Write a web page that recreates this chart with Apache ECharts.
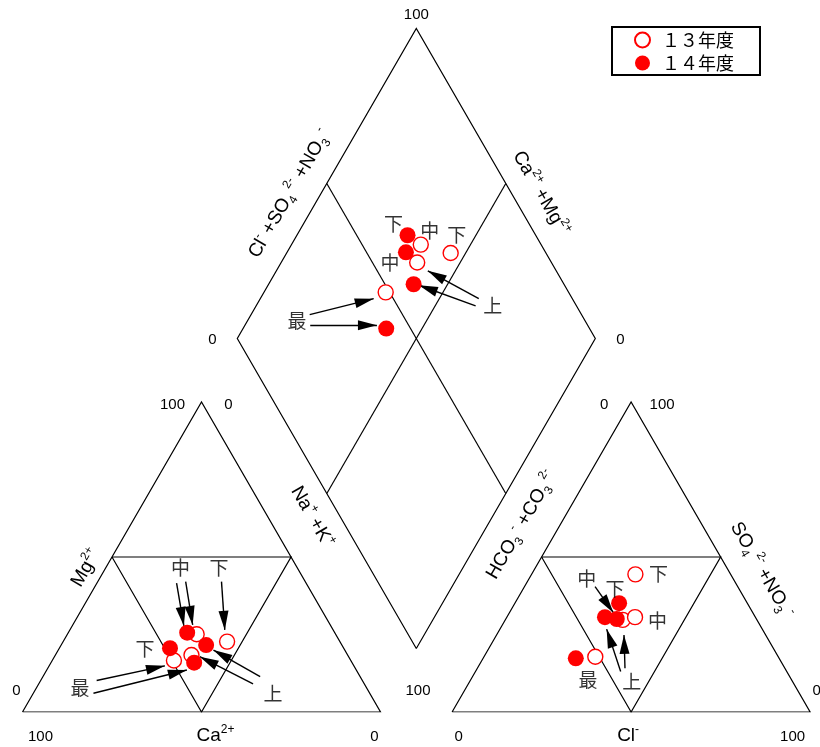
<!DOCTYPE html>
<html><head><meta charset="utf-8">
<script src="https://cdn.jsdelivr.net/npm/echarts@6/dist/echarts.min.js"></script>
<style>html,body{margin:0;padding:0;background:#fff;}#chart{width:820px;height:747px;}</style>
</head><body><div id="chart"></div>
<script>
// ---------------- data (meq %) ----------------
const stations = ['最', '上', '中', '下'];
const seriesNames = ['１３年度', '１４年度'];
// FY13 (open circles)
const ca13   = [49.4, 43.6, 38.8, 31.5];
const mg13   = [16.6, 18.4, 25.1, 22.7];
const nak13  = [34.0, 38.0, 36.1, 45.8];
const hco3_13 = [51.1, 37.5, 33.6, 26.6];
const cl13   = [31.1, 32.8, 35.8, 29.0];
const so4_13 = [17.8, 29.7, 30.6, 44.4];
// FY14 (filled circles)
const ca14   = [44.1, 37.9, 41.2, 48.5];
const mg14   = [15.9, 21.6, 25.6, 20.6];
const nak14  = [40.0, 40.5, 33.2, 30.9];
const hco3_14 = [56.8, 42.0, 39.0, 35.8];
const cl14   = [25.9, 27.4, 31.0, 29.1];
const so4_14 = [17.3, 30.6, 30.0, 35.1];
// tick labels and axis titles
const tickLabels = ['0', '100'];
const axisTitles = [
  'Mg{sup|2+}', 'Ca{sup|2+}', 'Na{sup|+} +K{sup|+}',
  'Cl{sup|-} +SO{sub|4}{sup| 2-} +NO{sub|3}{sup| -}', 'Ca{sup|2+} +Mg{sup|2+}',
  'HCO{sub|3}{sup| -} +CO{sub|3}{sup| 2-}', 'SO{sub|4}{sup| 2-} +NO{sub|3}{sup| -}', 'Cl{sup|-}'
];

// ---------------- geometry ----------------
const H = Math.sqrt(3) / 2, GAP = 20, LIFT = 0.4, SCALE = 3.58;
const XMAX = 220, YMAX = 195;
function catXY(mg, nak) { return [nak + mg / 2, mg * H]; }
function aniXY(so4, cl) { return [100 + GAP + cl + so4 / 2, so4 * H]; }
function diaXY(caMg, clSo4) { return [100 + GAP / 2 + (clSo4 - caMg) / 2, GAP * H + LIFT + (clSo4 + caMg) * H]; }
function build(ca, mg, nak, hco3, cl, so4) {
  const o = { c: [], a: [], d: [] };
  for (let i = 0; i < stations.length; i++) {
    o.c.push(catXY(mg[i], nak[i]));
    o.a.push(aniXY(so4[i], cl[i]));
    o.d.push(diaXY(ca[i] + mg[i], cl[i] + so4[i]));
  }
  return o;
}
const pts = {
  13: build(ca13, mg13, nak13, hco3_13, cl13, so4_13),
  14: build(ca14, mg14, nak14, hco3_14, cl14, so4_14)
};
const B = [110, GAP * H + LIFT], R = [160, GAP * H + LIFT + 100 * H],
      T = [110, GAP * H + LIFT + 200 * H], L = [60, GAP * H + LIFT + 100 * H];
const mid = (p, q) => [(p[0] + q[0]) / 2, (p[1] + q[1]) / 2];
const frames = [
  [[0, 0], [100, 0], [50, 100 * H], [0, 0]],
  [[25, 50 * H], [75, 50 * H], [50, 0], [25, 50 * H]],
  [[120, 0], [220, 0], [170, 100 * H], [120, 0]],
  [[145, 50 * H], [195, 50 * H], [170, 0], [145, 50 * H]],
  [B, R, T, L, B],
  [mid(L, T), mid(B, R)],
  [mid(T, R), mid(L, B)]
];

// annotations: offsets in pixels relative to the referenced sample point
const notes = [
  {t:'下', y:14, p:'d', s:3, lab:[-14,-11]},
  {t:'中', y:13, p:'d', s:2, lab:[9,-14]},
  {t:'下', y:13, p:'d', s:3, lab:[6,-18]},
  {t:'中', y:14, p:'d', s:2, lab:[-16,10]},
  {t:'上', y:13, p:'d', s:1, lab:[75.6,43.3], arr:[[61.6,36],[10.6,8.3]]},
  {y:14, p:'d', s:1, arr:[[62,21.6],[5.3,1]]},
  {t:'最', y:14, p:'d', s:0, lab:[-89.3,-8.3], arr:[[-76,-3.3],[-9.3,-3.3]]},
  {y:13, p:'d', s:0, arr:[[-76,22.3],[-12,6.3]]},
  {t:'中', y:14, p:'c', s:2, lab:[-6.6,-64.4], arr:[[-10.6,-49.4],[-3.3,-6.7]]},
  {y:13, p:'c', s:2, arr:[[-11,-52.6],[-4,-9.3]]},
  {t:'下', y:13, p:'c', s:3, lab:[-8,-73.4], arr:[[-5.6,-60],[-2.3,-11.7]]},
  {t:'下', y:14, p:'c', s:3, lab:[-25,1]},
  {t:'最', y:13, p:'c', s:0, lab:[-94,27.6], arr:[[-77.3,20],[-9,5.3]]},
  {y:14, p:'c', s:0, arr:[[-100.7,30.6],[-7.3,7.3]]},
  {t:'上', y:13, p:'c', s:1, lab:[81.6,39], arr:[[61.6,29],[8.3,1.7]]},
  {y:14, p:'c', s:1, arr:[[54,31.7],[7.3,5]]},
  {t:'下', y:13, p:'a', s:3, lab:[23,-1]},
  {t:'中', y:14, p:'a', s:2, lab:[-30,-40.7], arr:[[-21.7,-32.3],[-3.4,-6.3]]},
  {t:'下', y:14, p:'a', s:3, lab:[-4,-14.3]},
  {t:'中', y:13, p:'a', s:2, lab:[22.5,3.7]},
  {t:'最', y:14, p:'a', s:0, lab:[12.3,21.2]},
  {t:'上', y:14, p:'a', s:1, lab:[26.7,64.4], arr:[[15.7,54.4],[1.7,12]]},
  {y:13, p:'a', s:1, arr:[[2.3,48.3],[1.3,15]]}
];
const off = (p, d) => [p[0] + d[0] / SCALE, p[1] - d[1] / SCALE];
const labelData = [], arrowData = [];
notes.forEach(n => {
  const p = pts[n.y][n.p][n.s];
  if (n.t) labelData.push({ name: n.t, value: off(p, n.lab) });
  if (n.arr) arrowData.push({ coords: [off(p, n.arr[0]), off(p, n.arr[1])] });
});

// arrowhead: tip at the centre of a square bounding box, 10 wide and 19 long
const ARROW = 'path://M-19,-19L-19,-19M19,19L19,19M0,0L5,19L-5,19Z';
const CJK = '"Noto Sans CJK JP", sans-serif';
const LAT = '"Liberation Sans", Arial, sans-serif';

const chart = echarts.init(document.getElementById('chart'), null, { renderer: 'canvas' });
const gridTop = 712 - YMAX * SCALE;
chart.setOption({
  animation: false,
  backgroundColor: '#fff',
  grid: { left: 22.5, top: gridTop, width: XMAX * SCALE, height: YMAX * SCALE },
  xAxis: { type: 'value', min: 0, max: XMAX, show: false },
  yAxis: { type: 'value', min: 0, max: YMAX, show: false },
  legend: {
    data: seriesNames, orient: 'vertical', left: 612, top: 27,
    padding: [4, 26, 3, 22], itemGap: 5, itemWidth: 15, itemHeight: 15,
    borderColor: '#000', borderWidth: 2, borderRadius: 0,
    textStyle: { fontSize: 18, fontFamily: CJK, color: '#000', padding: [0, 0, 0, 7] }
  },
  series: [
    { type: 'lines', coordinateSystem: 'cartesian2d', polyline: true, silent: true, z: 1,
      data: frames.map(c => ({ coords: c })),
      lineStyle: { color: '#000', width: 1.2, opacity: 1 } },
    { type: 'lines', coordinateSystem: 'cartesian2d', silent: true, z: 2,
      data: arrowData, symbol: ['none', ARROW], symbolSize: 38,
      lineStyle: { color: '#000', width: 1.4, opacity: 1 } },
    { name: seriesNames[0], type: 'scatter', z: 3, symbol: 'circle', symbolSize: 15,
      data: [...pts[13].c, ...pts[13].a, ...pts[13].d],
      itemStyle: { color: '#fff', borderColor: '#ff0000', borderWidth: 1.4, opacity: 1 } },
    { name: seriesNames[1], type: 'scatter', z: 4, symbol: 'circle', symbolSize: 16,
      data: [...pts[14].c, ...pts[14].a, ...pts[14].d],
      itemStyle: { color: '#ff0000', opacity: 1 } },
    { name: 'notes', type: 'scatter', z: 5, symbolSize: 0, silent: true,
      itemStyle: { color: 'rgba(0,0,0,0)' }, data: labelData,
      label: { show: true, position: 'inside', formatter: '{b}', fontSize: 19, fontFamily: CJK, color: '#000' } }
  ]
});

// ---------------- tick labels and axis titles ----------------
const px = p => chart.convertToPixel({ gridIndex: 0 }, p);
function tick(anchor, dx, dy, text) {
  const q = px(anchor);
  return { type: 'text', x: q[0] + dx, y: q[1] + dy, z: 10,
    style: { text, fill: '#000', fontSize: 15, fontFamily: LAT, align: 'center', verticalAlign: 'middle' } };
}
const rich = {
  sup: { fontSize: 12, lineHeight: 12, verticalAlign: 'top', fontFamily: LAT, fill: '#000' },
  sub: { fontSize: 12, lineHeight: 12, verticalAlign: 'bottom', fontFamily: LAT, fill: '#000' }
};
function title(anchor, dx, dy, text, rotDeg) {
  const q = px(anchor);
  return { type: 'text', x: q[0] + dx, y: q[1] + dy, rotation: rotDeg * Math.PI / 180, z: 10,
    style: { text, fill: '#000', fontSize: 19, fontFamily: LAT, lineHeight: 25,
      align: 'center', verticalAlign: 'middle', rich } };
}
const LT_BL = [0, 0], LT_BR = [100, 0], LT_AP = [50, 100 * H];
const RT_BL = [120, 0], RT_BR = [220, 0], RT_AP = [170, 100 * H];
const graphics = [
  tick(T, 0, -14, tickLabels[1]),
  tick(L, -25, 1, tickLabels[0]),
  tick(R, 25, 1, tickLabels[0]),
  tick(LT_AP, -29, 3, tickLabels[1]),
  tick(LT_AP, 27, 3, tickLabels[0]),
  tick(RT_AP, -27, 3, tickLabels[0]),
  tick(RT_AP, 31, 3, tickLabels[1]),
  tick(LT_BL, -6, -21, tickLabels[0]),
  tick(LT_BL, 18, 25, tickLabels[1]),
  tick(LT_BR, -6, 25, tickLabels[0]),
  tick(LT_BR, 37.5, -21, tickLabels[1]),
  tick(RT_BL, 6.5, 25, tickLabels[0]),
  tick(RT_BR, 6.5, -21, tickLabels[0]),
  tick(RT_BR, -17.5, 25, tickLabels[1]),
  title([25, 50 * H], -26, 11, axisTitles[0], 60),
  title([50, 0], 14, 24, axisTitles[1], 0),
  title([75, 50 * H], 21, -40, axisTitles[2], -60),
  title(mid(L, T), -37, 10, axisTitles[3], 60),
  title(mid(T, R), 35, 10, axisTitles[4], -60),
  title([145, 50 * H], -20, -32, axisTitles[5], 60),
  title([195, 50 * H], 41, 13, axisTitles[6], -60),
  title([170, 0], -3, 24, axisTitles[7], 0)
];
chart.setOption({ graphic: graphics });
</script></body></html>
